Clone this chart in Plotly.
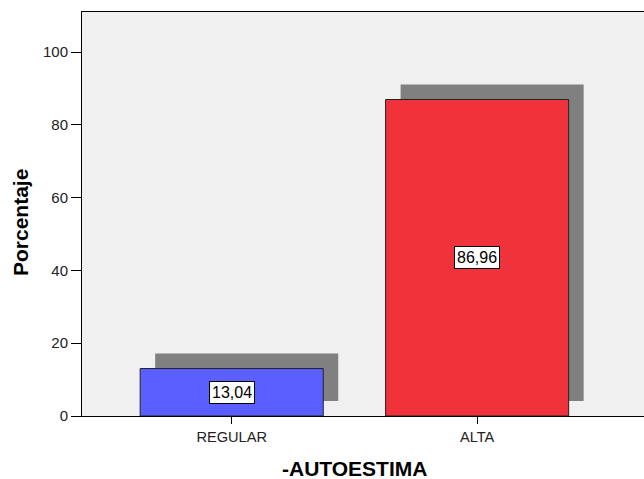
import plotly.graph_objects as go

categories = ["REGULAR", "ALTA"]
values = [13.04, 86.96]
labels = ["13,04", "86,96"]
colors = ["#5b5fff", "#f0323a"]
yticks = [0, 20, 40, 60, 80, 100]

FONT = "Arial, Liberation Sans, sans-serif"
xs = list(range(len(categories)))
bw = 0.746
dx = 15 / 245.3   # shadow shift in category units
dy = 15 / 3.64    # shadow shift in value units

fig = go.Figure()
fig.add_trace(go.Bar(x=[x + dx for x in xs], y=values, base=[dy] * len(values),
                     width=bw, marker=dict(color="#808080", line=dict(width=0)),
                     hoverinfo="skip", showlegend=False))
fig.add_trace(go.Bar(x=xs, y=values, width=bw,
                     marker=dict(color=colors, line=dict(color="#222222", width=1)),
                     showlegend=False))

for x, v, t in zip(xs, values, labels):
    fig.add_annotation(x=x, y=v / 2, text=t, showarrow=False,
                       font=dict(family=FONT, size=16, color="#000000"),
                       bgcolor="white", bordercolor="black", borderwidth=1, borderpad=2)

fig.add_annotation(xref="paper", yref="paper", x=(20 - 82) / 562, y=(416 - 223) / 404,
                   xanchor="center", yanchor="middle",
                   text="<b>Porcentaje</b>", textangle=-90, showarrow=False,
                   font=dict(family=FONT, size=21, color="#000000"))
fig.add_annotation(xref="paper", yref="paper", x=(354 - 82) / 562, y=-(468 - 416) / 404,
                   xanchor="center", yanchor="middle",
                   text="<b>-AUTOESTIMA</b>", showarrow=False,
                   font=dict(family=FONT, size=21, color="#000000"))

fig.update_layout(
    width=644, height=479,
    margin=dict(l=82, r=0, t=12, b=63),
    paper_bgcolor="white", plot_bgcolor="#f0f0f0",
    barmode="overlay",
    xaxis=dict(range=[-0.61, 1.68], tickvals=xs, ticktext=categories,
               ticks="outside", ticklen=7, tickcolor="black",
               showline=True, linecolor="black", linewidth=1, mirror=True,
               showgrid=False, zeroline=False,
               tickfont=dict(family=FONT, size=14.6, color="#222222")),
    yaxis=dict(range=[0, 111], tickvals=yticks,
               ticks="outside", ticklen=10, tickcolor="black",
               showline=True, linecolor="black", linewidth=1,
               showgrid=False, zeroline=False,
               tickfont=dict(family=FONT, size=15, color="#222222")),
)

fig.write_html("out.html", config={"displayModeBar": False},
               post_script="document.body.style.margin='0px';")
